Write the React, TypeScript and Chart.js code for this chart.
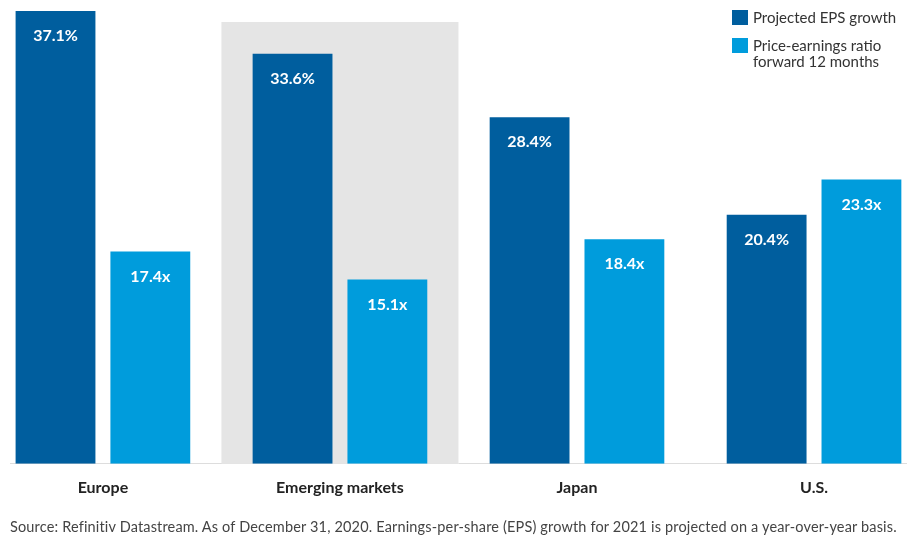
import React, { useEffect, useRef } from "react";
import { Chart, registerables } from "chart.js";

Chart.register(...registerables);

const categories = ["Europe", "Emerging markets", "Japan", "U.S."];
const epsGrowth = [37.1, 33.6, 28.4, 20.4];
const peRatio = [17.4, 15.1, 18.4, 23.3];
const epsLabels = ["37.1%", "33.6%", "28.4%", "20.4%"];
const peLabels = ["17.4x", "15.1x", "18.4x", "23.3x"];
const highlightIndex = 1;
const highlightTop = 36.2;

const DARK = "#005e9e";
const LIGHT = "#009cdc";
const FONT = "Lato, 'Noto Sans', sans-serif";

export default function App() {
  const ref = useRef<HTMLCanvasElement | null>(null);

  useEffect(() => {
    if (!ref.current) return;
    const highlight = {
      id: "highlight",
      beforeDatasetsDraw(chart: any) {
        const x = chart.scales.x;
        const y = chart.scales.y;
        const ctx = chart.ctx;
        const left = x.getPixelForValue(highlightIndex - 0.5);
        const right = x.getPixelForValue(highlightIndex + 0.5);
        const top = y.getPixelForValue(highlightTop);
        const bottom = y.getPixelForValue(0);
        ctx.save();
        ctx.fillStyle = "#e5e5e5";
        ctx.fillRect(left, top, right - left, bottom - top);
        ctx.restore();
      },
    };
    const valueLabels = {
      id: "valueLabels",
      afterDatasetsDraw(chart: any) {
        const ctx = chart.ctx;
        ctx.save();
        ctx.fillStyle = "#ffffff";
        ctx.font = `bold 16px ${FONT}`;
        ctx.textAlign = "center";
        ctx.textBaseline = "middle";
        chart.data.datasets.forEach((ds: any, di: number) => {
          const meta = chart.getDatasetMeta(di);
          meta.data.forEach((bar: any, i: number) => {
            ctx.fillText(ds.valueLabels[i], bar.x, bar.y + 25);
          });
        });
        ctx.restore();
      },
    };
    const chart = new Chart(ref.current, {
      type: "bar",
      data: {
        datasets: [
          {
            label: "Projected EPS growth",
            data: epsGrowth.map((v, i) => ({ x: i, y: v })),
            backgroundColor: DARK,
            valueLabels: epsLabels,
            barPercentage: 0.842,
            categoryPercentage: 0.8,
          } as any,
          {
            label: "Price-earnings ratio forward 12 months",
            data: peRatio.map((v, i) => ({ x: i, y: v })),
            backgroundColor: LIGHT,
            valueLabels: peLabels,
            barPercentage: 0.842,
            categoryPercentage: 0.8,
          } as any,
        ],
      },
      options: {
        animation: false,
        responsive: false,
        maintainAspectRatio: false,
        layout: { padding: { left: 10, right: 10, top: 0, bottom: 36 } },
        plugins: { legend: { display: false }, tooltip: { enabled: false } },
        scales: {
          x: {
            type: "linear",
            offset: false,
            min: -0.392,
            max: 3.388,
            grid: { display: false, drawTicks: false, offset: false },
            border: { display: true, color: "#dddddd", width: 1 },
            afterBuildTicks: (axis: any) => {
              axis.ticks = categories.map((_, i) => ({ value: i }));
            },
            ticks: {
              padding: 14,
              color: "#222222",
              font: { family: FONT, size: 16, weight: "bold" },
              callback: (v: any) => categories[Number(v)] ?? "",
            },
          },
          y: {
            display: false,
            min: 0,
            max: 38,
          },
        },
      } as any,
      plugins: [highlight, valueLabels],
    });
    return () => chart.destroy();
  }, []);

  return (
    <div style={{ position: "fixed", left: 0, top: 0, width: 916, height: 547, background: "#fff", fontFamily: FONT }}>
      <canvas ref={ref} width={916} height={547} style={{ position: "absolute", left: 0, top: 0, width: 916, height: 547 }} />
      <div style={{ position: "absolute", left: 732, top: 9, fontSize: 15, color: "#333", lineHeight: "16px" }}>
        <div style={{ display: "flex", alignItems: "flex-start" }}>
          <span style={{ display: "inline-block", width: 16, height: 15, background: DARK, marginRight: 5, marginTop: 1 }} />
          <span>Projected EPS growth</span>
        </div>
        <div style={{ display: "flex", alignItems: "flex-start", marginTop: 12 }}>
          <span style={{ display: "inline-block", width: 16, height: 15, background: LIGHT, marginRight: 5, marginTop: 1 }} />
          <span>Price-earnings ratio<br />forward 12 months</span>
        </div>
      </div>
      <div style={{ position: "absolute", left: 10, top: 518, fontSize: 14.5, letterSpacing: 0.16, color: "#444", whiteSpace: "nowrap" }}>
        Source: Refinitiv Datastream. As of December 31, 2020. Earnings-per-share (EPS) growth for 2021 is projected on a year-over-year basis.
      </div>
    </div>
  );
}
